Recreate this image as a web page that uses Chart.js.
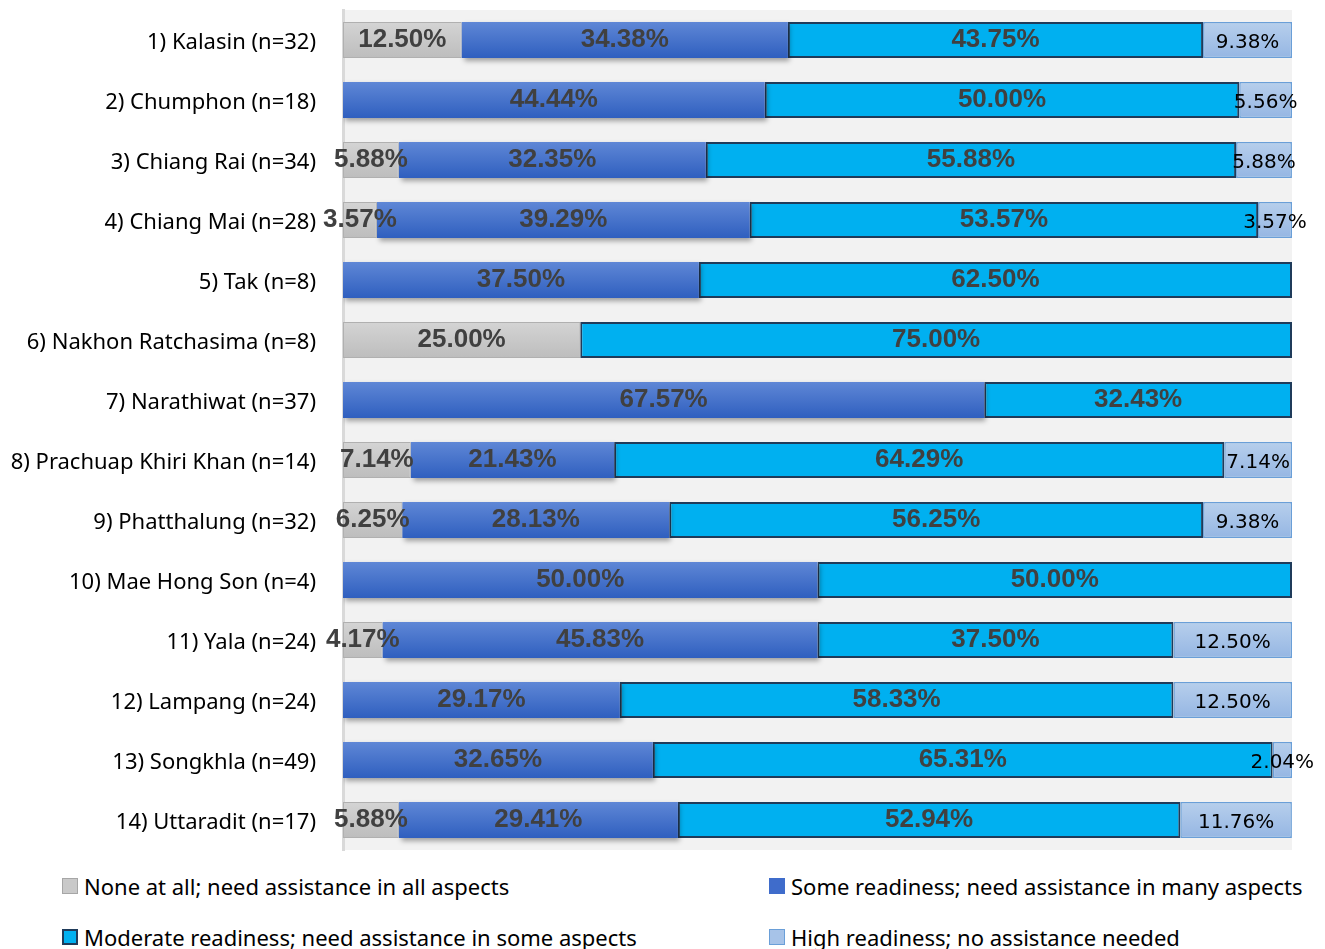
<!DOCTYPE html>
<html>
<head>
<meta charset="utf-8">
<script src="https://cdn.jsdelivr.net/npm/chart.js@4.4.1/dist/chart.umd.min.js"></script>
<style>
    html, body { margin: 0; padding: 0; background: #fff; }
    #wrap { position: relative; width: 1325px; height: 949px; }
    #chart-box { position: absolute; left: 0; top: 0; width: 1325px; height: 860px; }
    #legend { position: absolute; left: 0; top: 871px; width: 1325px; font-family: "Noto Sans", sans-serif; font-size: 22px; line-height: 30px; color: #000; }
    #legend .item { position: absolute; display: flex; align-items: center; white-space: nowrap; }
    #legend .swatch { width: 16px; height: 16px; margin-right: 6px; box-sizing: border-box; }
</style>
</head>
<body>
<div id="wrap">
    <div id="chart-box"><canvas id="readiness-chart"></canvas></div>
    <div id="legend"></div>
</div>
<script>
const provinces = [
    '1) Kalasin (n=32)',
    '2) Chumphon (n=18)',
    '3) Chiang Rai (n=34)',
    '4) Chiang Mai (n=28)',
    '5) Tak (n=8)',
    '6) Nakhon Ratchasima (n=8)',
    '7) Narathiwat (n=37)',
    '8) Prachuap Khiri Khan (n=14)',
    '9) Phatthalung (n=32)',
    '10) Mae Hong Son (n=4)',
    '11) Yala (n=24)',
    '12) Lampang (n=24)',
    '13) Songkhla (n=49)',
    '14) Uttaradit (n=17)',
];

// percent of respondents per readiness level (null = no bar)
const noneAtAll = [12.50, null, 5.88, 3.57, null, 25.00, null, 7.14, 6.25, null, 4.17, null, null, 5.88];
const someReadiness = [34.38, 44.44, 32.35, 39.29, 37.50, null, 67.57, 21.43, 28.13, 50.00, 45.83, 29.17, 32.65, 29.41];
const moderateReadiness = [43.75, 50.00, 55.88, 53.57, 62.50, 75.00, 32.43, 64.29, 56.25, 50.00, 37.50, 58.33, 65.31, 52.94];
const highReadiness = [9.38, 5.56, 5.88, 3.57, null, null, null, 7.14, 9.38, null, 12.50, 12.50, 2.04, 11.76];

const seriesNames = [
    'None at all; need assistance in all aspects',
    'Some readiness; need assistance in many aspects',
    'Moderate readiness; need assistance in some aspects',
    'High readiness; no assistance needed',
];

// vertical gradient across one bar, using the category scale position
function barGradient(top, bottom, flat) {
    return (c) => {
        const chart = c.chart;
        const yScale = chart.scales.y;
        if (!yScale || c.dataIndex === undefined) return flat;
        const y = yScale.getPixelForValue(c.dataIndex);
        if (!Number.isFinite(y)) return flat;
        const g = chart.ctx.createLinearGradient(0, y - 18, 0, y + 18);
        g.addColorStop(0, top);
        g.addColorStop(1, bottom);
        return g;
    };
}

const plotBackground = {
    id: 'plotBackground',
    beforeDraw(chart) {
        const { ctx, chartArea } = chart;
        ctx.save();
        ctx.fillStyle = '#f2f2f2';
        ctx.fillRect(chartArea.left, chartArea.top, chartArea.right - chartArea.left, chartArea.bottom - chartArea.top);
        ctx.restore();
    },
};

// soft drop shadow under the "some readiness" bars
const barShadow = {
    id: 'barShadow',
    beforeDatasetDraw(chart, args) {
        if (args.index !== 1) return;
        const ctx = chart.ctx;
        ctx.save();
        ctx.shadowColor = 'rgba(0, 0, 0, 0.35)';
        ctx.shadowBlur = 5;
        ctx.shadowOffsetX = 2;
        ctx.shadowOffsetY = 3;
    },
    afterDatasetDraw(chart, args) {
        if (args.index !== 1) return;
        chart.ctx.restore();
    },
};

// percentage labels centered on each segment
const segmentLabels = {
    id: 'segmentLabels',
    afterDatasetsDraw(chart) {
        const ctx = chart.ctx;
        ctx.save();
        ctx.textAlign = 'center';
        ctx.textBaseline = 'middle';
        chart.data.datasets.forEach((ds, di) => {
            const meta = chart.getDatasetMeta(di);
            meta.data.forEach((bar, i) => {
                const v = ds.data[i];
                if (v === null || v === undefined) return;
                const x = (bar.base + bar.x) / 2;
                if (di === 3) {
                    ctx.font = '20px "DejaVu Sans", sans-serif';
                    ctx.fillStyle = '#000000';
                    ctx.fillText(v.toFixed(2) + '%', x, bar.y + 3);
                } else {
                    ctx.font = 'bold 26px "Liberation Sans", Arial, sans-serif';
                    ctx.fillStyle = '#404040';
                    ctx.fillText(v.toFixed(2) + '%', x, bar.y);
                }
            });
        });
        ctx.restore();
    },
};

const datasets = [
    {
        label: seriesNames[0],
        data: noneAtAll,
        backgroundColor: barGradient('#d4d4d4', '#bdbdbd', '#c9c9c9'),
        borderColor: '#b0b0b0',
        borderWidth: 1,
        swatch: '#c9c9c9',
        swatchBorder: '#a6a6a6',
    },
    {
        label: seriesNames[1],
        data: someReadiness,
        backgroundColor: barGradient('#5f87d6', '#2f5fbf', '#4472c4'),
        borderWidth: 0,
        swatch: '#3f6ccb',
        swatchBorder: '#3f6ccb',
    },
    {
        label: seriesNames[2],
        data: moderateReadiness,
        backgroundColor: '#00b0f0',
        borderColor: '#1f3b5a',
        borderWidth: 2,
        swatch: '#00b0f0',
        swatchBorder: '#1f3b5a',
    },
    {
        label: seriesNames[3],
        data: highReadiness,
        backgroundColor: barGradient('#b7cfec', '#95b6e3', '#a7c3e8'),
        borderColor: '#6a9fd8',
        borderWidth: 1.5,
        swatch: '#a7c3e8',
        swatchBorder: '#6a9fd8',
    },
];

const canvas = document.getElementById('readiness-chart');
const chart = new Chart(canvas, {
    type: 'bar',
    data: { labels: provinces, datasets },
    options: {
        indexAxis: 'y',
        responsive: true,
        maintainAspectRatio: false,
        animation: false,
        layout: { padding: { top: 10, right: 33, bottom: 10, left: 0 } },
        datasets: {
            bar: { barPercentage: 0.6, categoryPercentage: 1, borderSkipped: false },
        },
        plugins: {
            legend: { display: false },
            tooltip: { enabled: false },
        },
        scales: {
            x: {
                stacked: true,
                min: 0,
                max: 100,
                display: false,
            },
            y: {
                stacked: true,
                afterFit: (scale) => {
                    scale.width = 343;
                    scale.paddingTop = 0;
                    scale.paddingBottom = 0;
                },
                grid: { display: false, drawTicks: false },
                border: { display: true, color: '#d9d9d9', width: 3 },
                ticks: {
                    padding: 27,
                    labelOffset: 3,
                    color: '#000000',
                    font: { family: '"Noto Sans", sans-serif', size: 22 },
                },
            },
        },
    },
    plugins: [plotBackground, barShadow, segmentLabels],
});

// two-column legend under the plot
const legendEl = document.getElementById('legend');
const legendSpots = [
    { left: 62, top: 0 },
    { left: 769, top: 0 },
    { left: 62, top: 51 },
    { left: 769, top: 51 },
];
datasets.forEach((ds, i) => {
    const item = document.createElement('div');
    item.className = 'item';
    item.style.left = legendSpots[i].left + 'px';
    item.style.top = legendSpots[i].top + 'px';
    const sw = document.createElement('span');
    sw.className = 'swatch';
    sw.style.background = ds.swatch;
    sw.style.border = (i === 2 ? 2 : 1) + 'px solid ' + ds.swatchBorder;
    const txt = document.createElement('span');
    txt.textContent = ds.label;
    item.appendChild(sw);
    item.appendChild(txt);
    legendEl.appendChild(item);
});
</script>
</body>
</html>
